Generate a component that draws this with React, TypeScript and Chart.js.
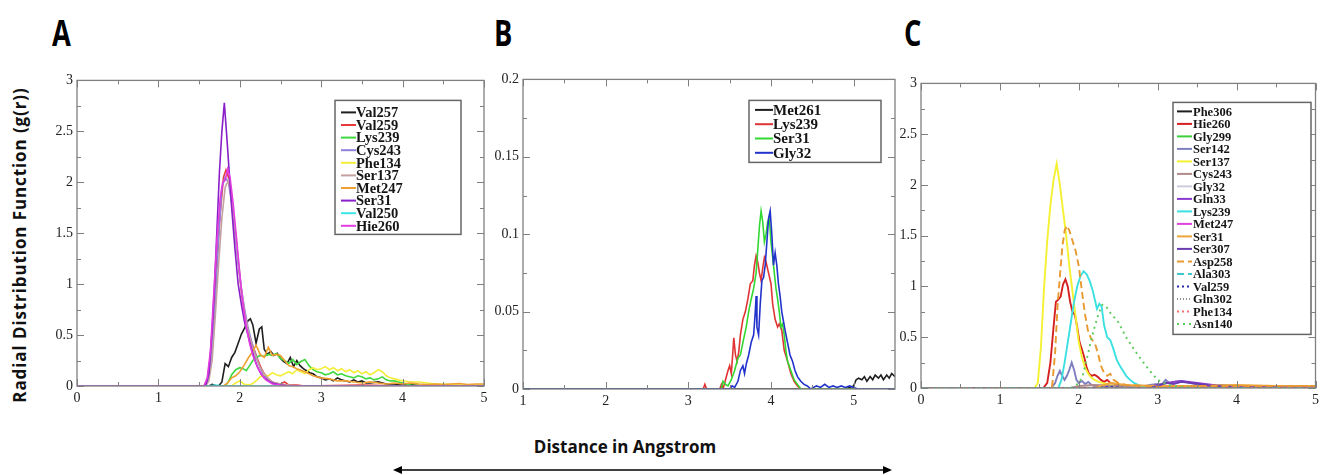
import React, { useEffect, useRef } from 'react';
import { Chart, registerables } from 'chart.js';
Chart.register(...registerables);

type Pt = [number, number];

// ---------------- Panel A data (r in Å, g(r)) ----------------
const aVal257: Pt[] = [[0,0],[1.62,0],[1.66,0.015],[1.7,0.005],[1.74,0],[1.78,0.04],[1.82,0.22],[1.86,0.19],[1.9,0.28],[1.94,0.33],[1.98,0.42],[2.02,0.51],[2.06,0.57],[2.1,0.64],[2.13,0.66],[2.16,0.6],[2.2,0.42],[2.24,0.56],[2.27,0.58],[2.3,0.36],[2.34,0.31],[2.38,0.34],[2.42,0.3],[2.46,0.32],[2.5,0.27],[2.54,0.24],[2.58,0.22],[2.62,0.28],[2.66,0.19],[2.7,0.25],[2.74,0.2],[2.78,0.17],[2.82,0.15],[2.86,0.13],[2.9,0.12],[2.95,0.09],[3.0,0.08],[3.05,0.06],[3.1,0.07],[3.15,0.05],[3.2,0.08],[3.25,0.06],[3.3,0.05],[3.35,0.04],[3.4,0.06],[3.45,0.04],[3.5,0.05],[3.55,0.03],[3.6,0.03],[3.7,0.04],[3.8,0.02],[3.9,0.02],[4.0,0.01],[4.1,0.015],[4.2,0.005],[4.3,0],[5,0]];
const aVal259: Pt[] = [[0,0],[1.56,0],[1.6,0.06],[1.64,0.3],[1.68,0.75],[1.72,1.25],[1.76,1.7],[1.8,2.05],[1.83,2.12],[1.86,2.05],[1.9,1.82],[1.94,1.55],[1.98,1.22],[2.02,0.92],[2.06,0.7],[2.1,0.55],[2.14,0.44],[2.18,0.35],[2.22,0.26],[2.26,0.18],[2.3,0.12],[2.34,0.08],[2.38,0.05],[2.42,0.03],[2.5,0.02],[2.55,0.04],[2.6,0.01],[2.7,0.01],[2.8,0],[3.5,0.01],[4,0],[5,0]];
const aLys239: Pt[] = [[0,0],[1.82,0],[1.86,0.04],[1.9,0.11],[1.95,0.16],[2.0,0.18],[2.04,0.17],[2.08,0.15],[2.12,0.2],[2.16,0.25],[2.2,0.28],[2.25,0.3],[2.3,0.29],[2.35,0.31],[2.4,0.3],[2.45,0.32],[2.5,0.27],[2.55,0.25],[2.6,0.22],[2.65,0.26],[2.7,0.21],[2.75,0.24],[2.8,0.26],[2.85,0.2],[2.9,0.16],[2.95,0.14],[3.0,0.13],[3.05,0.11],[3.1,0.12],[3.15,0.14],[3.2,0.11],[3.25,0.12],[3.3,0.1],[3.35,0.09],[3.4,0.08],[3.45,0.1],[3.5,0.09],[3.55,0.07],[3.6,0.08],[3.65,0.06],[3.7,0.07],[3.75,0.09],[3.8,0.06],[3.85,0.05],[3.9,0.05],[3.95,0.04],[4.0,0.03],[4.1,0.01],[4.2,0.005],[4.3,0],[5,0]];
const aCys243: Pt[] = [[0,0],[1.58,0],[1.62,0.08],[1.66,0.35],[1.7,0.85],[1.74,1.45],[1.78,1.95],[1.82,2.05],[1.86,2.0],[1.9,1.8],[1.94,1.5],[1.98,1.2],[2.02,0.95],[2.06,0.75],[2.1,0.58],[2.14,0.45],[2.18,0.34],[2.22,0.24],[2.26,0.16],[2.3,0.1],[2.35,0.06],[2.4,0.03],[2.45,0.02],[2.5,0.01],[2.6,0],[5,0]];
const aPhe134: Pt[] = [[0,0],[1.9,0],[1.95,0.03],[2.0,0.05],[2.05,0.02],[2.1,0.01],[2.15,0.02],[2.2,0.05],[2.25,0.09],[2.3,0.11],[2.35,0.1],[2.4,0.13],[2.45,0.11],[2.5,0.1],[2.55,0.12],[2.6,0.14],[2.65,0.12],[2.7,0.16],[2.75,0.14],[2.8,0.12],[2.85,0.16],[2.9,0.18],[2.95,0.16],[3.0,0.17],[3.05,0.19],[3.1,0.16],[3.15,0.18],[3.2,0.15],[3.25,0.17],[3.3,0.14],[3.35,0.16],[3.4,0.13],[3.45,0.15],[3.5,0.12],[3.55,0.14],[3.6,0.11],[3.65,0.13],[3.7,0.16],[3.75,0.14],[3.8,0.1],[3.85,0.08],[3.9,0.07],[3.95,0.06],[4.0,0.05],[4.1,0.04],[4.2,0.04],[4.3,0.03],[4.4,0.02],[4.5,0.02],[4.7,0.01],[5,0.01]];
const aSer137: Pt[] = [[0,0],[1.58,0],[1.62,0.05],[1.66,0.25],[1.7,0.7],[1.74,1.2],[1.78,1.65],[1.82,1.95],[1.86,2.02],[1.9,1.85],[1.94,1.55],[1.98,1.25],[2.02,0.95],[2.06,0.72],[2.1,0.55],[2.15,0.4],[2.2,0.28],[2.25,0.18],[2.3,0.12],[2.35,0.07],[2.4,0.04],[2.5,0.02],[2.6,0.01],[2.7,0],[5,0]];
const aMet247: Pt[] = [[0,0],[1.8,0],[1.85,0.03],[1.9,0.08],[1.95,0.1],[2.0,0.14],[2.05,0.2],[2.1,0.27],[2.15,0.33],[2.2,0.4],[2.25,0.31],[2.3,0.28],[2.35,0.38],[2.4,0.3],[2.45,0.31],[2.5,0.3],[2.55,0.25],[2.6,0.2],[2.65,0.19],[2.7,0.17],[2.8,0.14],[2.9,0.1],[3.0,0.08],[3.1,0.07],[3.2,0.05],[3.3,0.05],[3.4,0.04],[3.5,0.03],[3.6,0.04],[3.7,0.03],[3.8,0.02],[3.9,0.03],[4.0,0.02],[4.1,0.03],[4.2,0.02],[4.3,0.015],[4.4,0.02],[4.5,0.015],[4.6,0.02],[4.7,0.025],[4.8,0.015],[4.9,0.02],[5,0.02]];
const aSer31: Pt[] = [[0,0],[1.58,0],[1.62,0.12],[1.66,0.55],[1.69,1.0],[1.72,1.55],[1.75,2.1],[1.78,2.5],[1.81,2.78],[1.84,2.45],[1.87,2.1],[1.9,1.75],[1.94,1.35],[1.98,1.0],[2.02,0.8],[2.06,0.62],[2.1,0.5],[2.14,0.38],[2.18,0.27],[2.22,0.18],[2.26,0.12],[2.3,0.08],[2.35,0.05],[2.4,0.03],[2.5,0.01],[2.6,0],[5,0]];
const aVal250: Pt[] = [[0,0],[1.6,0],[1.7,0.01],[1.8,0],[5,0]];
const aHie260: Pt[] = [[0,0],[1.56,0],[1.6,0.08],[1.64,0.35],[1.68,0.9],[1.72,1.45],[1.76,1.85],[1.79,2.0],[1.82,2.02],[1.85,2.13],[1.88,2.05],[1.92,1.78],[1.96,1.45],[2.0,1.1],[2.04,0.8],[2.08,0.58],[2.12,0.42],[2.16,0.3],[2.2,0.22],[2.24,0.15],[2.28,0.1],[2.32,0.06],[2.36,0.04],[2.4,0.02],[2.5,0.01],[2.6,0],[5,0]];

// ---------------- Panel B data ----------------
const bMet261: Pt[] = [[1,0],[4.9,0],[4.95,0.001],[5.0,0.002],[5.03,0.006],[5.06,0.007],[5.1,0.006],[5.13,0.008],[5.16,0.005],[5.2,0.008],[5.23,0.006],[5.26,0.009],[5.3,0.007],[5.33,0.009],[5.36,0.006],[5.4,0.009],[5.43,0.007],[5.46,0.01],[5.5,0.008]];
const bLys239: Pt[] = [[1,0],[3.18,0],[3.2,0.003],[3.22,0],[3.38,0],[3.4,0.003],[3.42,0],[3.45,0.006],[3.48,0.012],[3.5,0.015],[3.52,0.01],[3.54,0.025],[3.55,0.033],[3.57,0.022],[3.59,0.018],[3.61,0.024],[3.63,0.035],[3.66,0.045],[3.69,0.05],[3.72,0.058],[3.75,0.068],[3.78,0.07],[3.8,0.08],[3.82,0.086],[3.84,0.082],[3.86,0.075],[3.88,0.07],[3.9,0.078],[3.92,0.085],[3.94,0.082],[3.97,0.075],[4.0,0.068],[4.02,0.055],[4.05,0.045],[4.08,0.04],[4.1,0.042],[4.13,0.038],[4.16,0.025],[4.2,0.018],[4.24,0.01],[4.28,0.005],[4.32,0.002],[4.36,0],[5.5,0]];
const bSer31: Pt[] = [[1,0],[3.4,0],[3.42,0.005],[3.45,0.003],[3.48,0.002],[3.52,0.006],[3.56,0.012],[3.6,0.02],[3.63,0.022],[3.66,0.03],[3.7,0.04],[3.73,0.05],[3.76,0.058],[3.79,0.065],[3.82,0.075],[3.84,0.09],[3.86,0.105],[3.88,0.115],[3.9,0.108],[3.92,0.095],[3.94,0.1],[3.96,0.108],[3.98,0.11],[4.0,0.095],[4.02,0.085],[4.04,0.075],[4.06,0.065],[4.08,0.058],[4.1,0.05],[4.12,0.04],[4.14,0.042],[4.16,0.035],[4.18,0.025],[4.2,0.018],[4.24,0.012],[4.28,0.006],[4.32,0.003],[4.36,0],[5.5,0]];
const bGly32: Pt[] = [[1,0],[3.5,0],[3.53,0.002],[3.56,0.001],[3.6,0.005],[3.63,0.012],[3.66,0.015],[3.68,0.01],[3.7,0.016],[3.73,0.022],[3.76,0.03],[3.79,0.035],[3.81,0.05],[3.82,0.06],[3.83,0.04],[3.85,0.035],[3.87,0.055],[3.89,0.07],[3.91,0.072],[3.93,0.08],[3.95,0.095],[3.97,0.11],[3.99,0.115],[4.01,0.1],[4.03,0.08],[4.05,0.088],[4.07,0.08],[4.09,0.068],[4.11,0.06],[4.13,0.05],[4.15,0.044],[4.17,0.038],[4.2,0.03],[4.23,0.022],[4.26,0.018],[4.29,0.012],[4.32,0.008],[4.36,0.005],[4.4,0.003],[4.44,0.002],[4.48,0],[4.55,0.002],[4.6,0.001],[4.65,0.003],[4.7,0.001],[4.75,0.002],[4.8,0.001],[4.85,0.002],[4.9,0.001],[4.95,0.002],[5.0,0.001],[5.05,0],[5.5,0]];

// ---------------- Panel C data ----------------
const cPhe306: Pt[] = [[0,0],[2.8,0],[3.0,0.01],[3.3,0.01],[3.5,0.02],[3.7,0.01],[4.0,0.02],[4.5,0.01],[5,0.01]];
const cHie260: Pt[] = [[0,0],[1.55,0],[1.6,0.05],[1.64,0.25],[1.68,0.6],[1.71,0.85],[1.74,0.87],[1.77,0.9],[1.8,1.02],[1.83,1.07],[1.86,1.0],[1.89,0.85],[1.92,0.75],[1.95,0.72],[1.98,0.6],[2.01,0.45],[2.04,0.38],[2.07,0.3],[2.1,0.2],[2.13,0.14],[2.16,0.12],[2.2,0.13],[2.24,0.11],[2.28,0.08],[2.32,0.06],[2.36,0.08],[2.4,0.05],[2.45,0.04],[2.5,0.03],[2.6,0.02],[2.7,0.02],[2.8,0.01],[3.0,0.01],[3.2,0.02],[3.4,0.01],[3.6,0.02],[3.7,0.03],[3.8,0.01],[4.0,0.02],[4.2,0.01],[4.4,0.02],[4.6,0.01],[4.8,0.02],[5,0.01]];
const cGly299: Pt[] = [[0,0],[3.5,0],[4.0,0.01],[4.5,0.02],[5,0.02]];
const cSer142: Pt[] = [[0,0],[1.65,0],[1.7,0.05],[1.73,0.12],[1.76,0.17],[1.79,0.12],[1.82,0.08],[1.85,0.12],[1.88,0.18],[1.91,0.25],[1.94,0.18],[1.97,0.08],[2.0,0.05],[2.04,0.07],[2.08,0.04],[2.12,0.06],[2.16,0.03],[2.2,0.02],[2.3,0.02],[2.5,0.01],[2.8,0.01],[2.9,0.03],[3.0,0.04],[3.05,0.03],[3.1,0.08],[3.15,0.05],[3.2,0.06],[3.3,0.07],[3.4,0.05],[3.5,0.04],[3.6,0.03],[3.7,0.02],[3.8,0.03],[4.0,0.02],[4.5,0.01],[5,0.01]];
const cSer137: Pt[] = [[0,0],[1.44,0],[1.48,0.05],[1.52,0.4],[1.56,1.0],[1.6,1.45],[1.64,1.8],[1.68,2.05],[1.72,2.21],[1.76,2.0],[1.8,1.75],[1.84,1.5],[1.88,1.2],[1.92,0.95],[1.96,0.7],[2.0,0.45],[2.04,0.3],[2.08,0.2],[2.12,0.14],[2.16,0.1],[2.2,0.08],[2.25,0.06],[2.3,0.05],[2.4,0.03],[2.5,0.02],[2.6,0.01],[3,0.01],[3.5,0.02],[4,0.02],[4.5,0.01],[5,0.02]];
const cCys243: Pt[] = [[0,0],[1.9,0],[2.0,0.02],[2.2,0.03],[2.5,0.02],[3,0.01],[5,0.01]];
const cGly32: Pt[] = [[0,0],[5,0]];
const cGln33: Pt[] = [[0,0],[2.8,0],[3.0,0.03],[3.2,0.06],[3.3,0.07],[3.4,0.06],[3.5,0.05],[3.6,0.04],[3.8,0.02],[4.0,0.01],[5,0]];
const cLys239: Pt[] = [[0,0],[1.74,0],[1.78,0.08],[1.82,0.25],[1.86,0.45],[1.9,0.65],[1.94,0.85],[1.98,1.0],[2.02,1.1],[2.06,1.15],[2.1,1.12],[2.14,1.05],[2.18,0.95],[2.2,0.88],[2.23,0.78],[2.26,0.83],[2.29,0.8],[2.32,0.62],[2.36,0.5],[2.4,0.47],[2.44,0.38],[2.48,0.28],[2.52,0.22],[2.56,0.17],[2.6,0.12],[2.65,0.08],[2.7,0.05],[2.75,0.03],[2.8,0.02],[2.9,0.01],[3,0],[5,0]];
const cMet247: Pt[] = [[0,0],[5,0]];
const cSer31: Pt[] = [[0,0],[2.2,0],[2.4,0.05],[2.6,0.03],[3.0,0.02],[3.5,0.02],[4.0,0.03],[4.5,0.02],[5,0.02]];
const cSer307: Pt[] = [[0,0],[2.9,0],[3.0,0.02],[3.1,0.05],[3.2,0.04],[3.3,0.06],[3.4,0.05],[3.5,0.04],[3.7,0.02],[4,0.01],[5,0]];
const cAsp258: Pt[] = [[0,0],[1.66,0],[1.7,0.35],[1.73,0.8],[1.76,1.1],[1.79,1.38],[1.82,1.55],[1.85,1.6],[1.88,1.55],[1.92,1.45],[1.96,1.35],[2.0,1.2],[2.04,0.95],[2.08,0.72],[2.12,0.55],[2.16,0.48],[2.2,0.45],[2.24,0.35],[2.28,0.22],[2.32,0.15],[2.36,0.12],[2.4,0.14],[2.44,0.08],[2.5,0.05],[2.6,0.03],[2.8,0.02],[3,0.01],[3.5,0.02],[4,0.02],[4.5,0.02],[5,0.02]];
const cAla303: Pt[] = [[0,0],[5,0]];
const cVal259: Pt[] = [[0,0],[2.2,0],[2.4,0.01],[2.6,0],[5,0]];
const cGln302: Pt[] = [[0,0],[5,0]];
const cPhe134: Pt[] = [[0,0],[3,0],[5,0.01]];
const cAsn140: Pt[] = [[0,0],[1.9,0],[1.95,0.02],[2.0,0.05],[2.05,0.12],[2.1,0.28],[2.15,0.45],[2.2,0.6],[2.25,0.73],[2.3,0.82],[2.35,0.8],[2.4,0.74],[2.5,0.65],[2.6,0.5],[2.7,0.38],[2.8,0.27],[2.9,0.17],[3.0,0.08],[3.1,0.04],[3.2,0.02],[3.3,0.01],[3.5,0],[5,0]];

// ---------------- Tick values ----------------
const xTicksAC = [0, 1, 2, 3, 4, 5];
const xMinorAC = [0.5, 1.5, 2.5, 3.5, 4.5];
const yTicksAC = [0, 0.5, 1, 1.5, 2, 2.5, 3];
const yMinorAC = [0.25, 0.75, 1.25, 1.75, 2.25, 2.75];
const xTicksB = [1, 2, 3, 4, 5];
const xMinorB = [1.5, 2.5, 3.5, 4.5];
const yTicksB = [0, 0.05, 0.1, 0.15, 0.2];
const yMinorB = [0.025, 0.075, 0.125, 0.175];

interface Series { label: string; color: string; pts: Pt[]; dash?: number[]; width?: number }

const seriesA: Series[] = [
  { label: 'Val257', color: '#1e1e1e', pts: aVal257 },
  { label: 'Val259', color: '#e83a3a', pts: aVal259 },
  { label: 'Lys239', color: '#3fd83f', pts: aLys239 },
  { label: 'Cys243', color: '#8f80dc', pts: aCys243 },
  { label: 'Phe134', color: '#f2ee3a', pts: aPhe134 },
  { label: 'Ser137', color: '#c4a0a0', pts: aSer137 },
  { label: 'Met247', color: '#eea030', pts: aMet247 },
  { label: 'Ser31', color: '#8a1ec8', pts: aSer31 },
  { label: 'Val250', color: '#3ce6e6', pts: aVal250 },
  { label: 'Hie260', color: '#e23ce2', pts: aHie260 },
];
const seriesB: Series[] = [
  { label: 'Met261', color: '#1e1e1e', pts: bMet261 },
  { label: 'Lys239', color: '#e03434', pts: bLys239 },
  { label: 'Ser31', color: '#32d832', pts: bSer31 },
  { label: 'Gly32', color: '#2233cc', pts: bGly32 },
];
const seriesC: Series[] = [
  { label: 'Phe306', color: '#1e1e1e', pts: cPhe306 },
  { label: 'Hie260', color: '#d42020', pts: cHie260 },
  { label: 'Gly299', color: '#3ccf3c', pts: cGly299 },
  { label: 'Ser142', color: '#7f7fbf', pts: cSer142 },
  { label: 'Ser137', color: '#f4f032', pts: cSer137 },
  { label: 'Cys243', color: '#b08a8a', pts: cCys243 },
  { label: 'Gly32', color: '#ccccdd', pts: cGly32 },
  { label: 'Gln33', color: '#8a3ad0', pts: cGln33 },
  { label: 'Lys239', color: '#3ce0e0', pts: cLys239 },
  { label: 'Met247', color: '#e040e0', pts: cMet247 },
  { label: 'Ser31', color: '#eea63a', pts: cSer31 },
  { label: 'Ser307', color: '#6a3cb0', pts: cSer307 },
  { label: 'Asp258', color: '#e89a30', pts: cAsp258, dash: [7, 4] },
  { label: 'Ala303', color: '#40c8c8', pts: cAla303, dash: [7, 4] },
  { label: 'Val259', color: '#2a2ab0', pts: cVal259, dash: [2, 3] },
  { label: 'Gln302', color: '#909090', pts: cGln302, dash: [1, 2] },
  { label: 'Phe134', color: '#f07070', pts: cPhe134, dash: [2, 3] },
  { label: 'Asn140', color: '#5ccc5c', pts: cAsn140, dash: [2, 4] },
];

const SERIF = '"Liberation Serif", "Times New Roman", serif';

interface PanelSpec {
  series: Series[];
  xMin: number; xMax: number; yMin: number; yMax: number;
  xTicks: number[]; xMinor: number[]; yTicks: number[]; yMinor: number[];
  padding: { left: number; right: number; top: number; bottom: number };
  lineWidth: number;
  legend: { x: number; y: number; w: number; h: number; first: number; step: number; font: number; l1: number; l2: number; tx: number };
}

function makeConfig(p: PanelSpec): any {
  const framePlugin = {
    id: 'frame',
    afterDatasetsDraw(chart: any) {
      const { ctx, chartArea: a, scales } = chart;
      ctx.save();
      ctx.strokeStyle = '#808080';
      ctx.lineWidth = 1.3;
      ctx.strokeRect(a.left, a.top, a.right - a.left, a.bottom - a.top);
      ctx.lineWidth = 1;
      const seg = (x1: number, y1: number, x2: number, y2: number) => {
        ctx.beginPath(); ctx.moveTo(x1, y1); ctx.lineTo(x2, y2); ctx.stroke();
      };
      const xs = (vals: number[], len: number) => vals.forEach((v) => {
        const px = Math.round(scales.x.getPixelForValue(v)) + 0.5;
        seg(px, a.bottom, px, a.bottom - len); seg(px, a.top, px, a.top + len);
      });
      const ys = (vals: number[], len: number) => vals.forEach((v) => {
        const py = Math.round(scales.y.getPixelForValue(v)) + 0.5;
        seg(a.left, py, a.left + len, py); seg(a.right, py, a.right - len, py);
      });
      xs(p.xTicks, 7); xs(p.xMinor, 4); ys(p.yTicks, 7); ys(p.yMinor, 4);
      ctx.restore();
    },
  };
  const legendPlugin = {
    id: 'boxLegend',
    afterDraw(chart: any) {
      const { ctx, chartArea: a } = chart;
      const L = p.legend;
      const x0 = a.left + L.x, y0 = a.top + L.y;
      ctx.save();
      ctx.fillStyle = '#ffffff';
      ctx.fillRect(x0, y0, L.w, L.h);
      ctx.strokeStyle = '#666666';
      ctx.lineWidth = 1.5;
      ctx.strokeRect(x0, y0, L.w, L.h);
      ctx.font = `bold ${L.font}px ${SERIF}`;
      ctx.textBaseline = 'middle';
      p.series.forEach((s, i) => {
        const cy = y0 + L.first + i * L.step;
        ctx.strokeStyle = s.color;
        ctx.lineWidth = 2;
        ctx.setLineDash(s.dash || []);
        ctx.beginPath(); ctx.moveTo(x0 + L.l1, cy); ctx.lineTo(x0 + L.l2, cy); ctx.stroke();
        ctx.setLineDash([]);
        ctx.fillStyle = '#151515';
        ctx.fillText(s.label, x0 + L.tx, cy + 1);
      });
      ctx.restore();
    },
  };
  const n = p.series.length;
  const tickFont = { family: SERIF, size: 14 };
  return {
    type: 'line',
    data: {
      datasets: p.series.map((s, i) => ({
        label: s.label,
        data: s.pts.map(([x, y]) => ({ x, y })),
        borderColor: s.color,
        backgroundColor: s.color,
        borderWidth: s.width ?? p.lineWidth,
        borderDash: s.dash ?? [],
        pointRadius: 0,
        tension: 0,
        fill: false,
        order: n - i,
      })),
    },
    options: {
      responsive: false,
      animation: false,
      devicePixelRatio: 1,
      layout: { padding: p.padding },
      plugins: { legend: { display: false }, tooltip: { enabled: false } },
      scales: {
        x: {
          type: 'linear', min: p.xMin, max: p.xMax,
          afterBuildTicks: (sc: any) => { sc.ticks = p.xTicks.map((v) => ({ value: v })); },
          afterFit: (sc: any) => { sc.height = 22; },
          grid: { display: false, drawTicks: false }, border: { display: false },
          ticks: { font: tickFont, color: '#222', padding: 4, maxRotation: 0, autoSkip: false, callback: (v: any) => String(v) },
        },
        y: {
          type: 'linear', min: p.yMin, max: p.yMax,
          afterBuildTicks: (sc: any) => { sc.ticks = p.yTicks.map((v) => ({ value: v })); },
          afterFit: (sc: any) => { sc.width = 30; },
          grid: { display: false, drawTicks: false }, border: { display: false },
          ticks: { font: tickFont, color: '#222', padding: 4, autoSkip: false, callback: (v: any) => String(v) },
        },
      },
    },
    plugins: [framePlugin, legendPlugin],
  };
}

const specA: PanelSpec = {
  series: seriesA, xMin: 0, xMax: 5, yMin: 0, yMax: 3,
  xTicks: xTicksAC, xMinor: xMinorAC, yTicks: yTicksAC, yMinor: yMinorAC,
  padding: { left: 2, right: 11, top: 10, bottom: 0 }, lineWidth: 1.6,
  legend: { x: 258, y: 20, w: 126, h: 134, first: 12, step: 12.6, font: 14.5, l1: 6, l2: 21, tx: 21 },
};
const specB: PanelSpec = {
  series: seriesB, xMin: 1, xMax: 5.5, yMin: 0, yMax: 0.2,
  xTicks: xTicksB, xMinor: xMinorB, yTicks: yTicksB, yMinor: yMinorB,
  padding: { left: 0, right: 10, top: 10, bottom: 0 }, lineWidth: 1.6,
  legend: { x: 226, y: 21, w: 132, h: 62, first: 9.5, step: 14.3, font: 15, l1: 6, l2: 24, tx: 24 },
};
const specC: PanelSpec = {
  series: seriesC, xMin: 0, xMax: 5, yMin: 0, yMax: 3,
  xTicks: xTicksAC, xMinor: xMinorAC, yTicks: yTicksAC, yMinor: yMinorAC,
  padding: { left: 0, right: 2, top: 10, bottom: 0 }, lineWidth: 1.9,
  legend: { x: 252, y: 19, w: 138, h: 232, first: 9, step: 12.5, font: 12.5, l1: 4, l2: 19, tx: 20 },
};

function Panel(props: { left: number; top: number; width: number; height: number; spec: PanelSpec }) {
  const ref = useRef<HTMLCanvasElement>(null);
  useEffect(() => {
    const chart = new Chart(ref.current as HTMLCanvasElement, makeConfig(props.spec));
    return () => chart.destroy();
  }, []);
  return (
    <canvas
      ref={ref}
      width={props.width}
      height={props.height}
      style={{ position: 'absolute', left: props.left, top: props.top, width: props.width, height: props.height }}
    />
  );
}

const SANS = '"Open Sans", "Noto Sans", "DejaVu Sans", sans-serif';
const letterStyle: React.CSSProperties = {
  position: 'absolute', fontFamily: SANS, fontWeight: 700, fontSize: 35, lineHeight: '35px',
  color: '#000', transform: 'scaleX(0.78)', transformOrigin: 'left top',
};

export default function App() {
  return (
    <div style={{ position: 'absolute', left: 0, top: 0, width: 1323, height: 475, background: '#fff', overflow: 'hidden' }}>
      <div style={{ ...letterStyle, left: 52, top: 15 }}>A</div>
      <div style={{ ...letterStyle, left: 494, top: 15 }}>B</div>
      <div style={{ ...letterStyle, left: 904, top: 15 }}>C</div>
      <Panel left={45} top={68} width={450} height={340} spec={specA} />
      <Panel left={493} top={67} width={412} height={344} spec={specB} />
      <Panel left={891} top={71} width={432} height={339} spec={specC} />
      <div
        style={{
          position: 'absolute', left: 20, top: 245, width: 360, marginLeft: -180, marginTop: -11, height: 22,
          transform: 'rotate(-90deg)', textAlign: 'center', fontFamily: SANS, fontWeight: 700, fontSize: 17,
          letterSpacing: 0.9, lineHeight: '22px', color: '#111', whiteSpace: 'nowrap',
        }}
      >
        Radial Distribution Function (g(r))
      </div>
      <div
        style={{
          position: 'absolute', left: 515, top: 437, width: 220, textAlign: 'center', fontFamily: SANS,
          fontWeight: 700, fontSize: 17, lineHeight: '20px', color: '#111', whiteSpace: 'nowrap',
        }}
      >
        Distance in Angstrom
      </div>
      <svg style={{ position: 'absolute', left: 385, top: 462 }} width={515} height={16}>
        <line x1={12} y1={8} x2={503} y2={8} stroke="#000" strokeWidth={1.5} />
        <polygon points="8,8 17,4 17,12" fill="#000" />
        <polygon points="507,8 498,4 498,12" fill="#000" />
      </svg>
    </div>
  );
}
